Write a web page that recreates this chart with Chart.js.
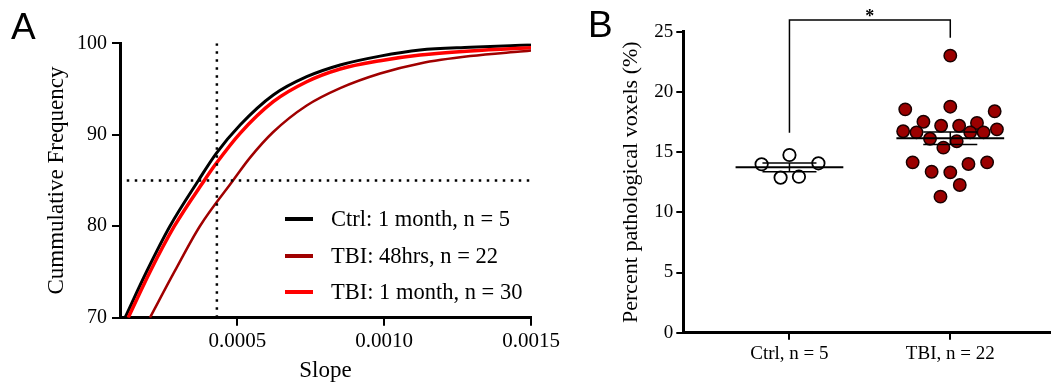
<!DOCTYPE html>
<html>
<head>
<meta charset="utf-8">
<script src="https://cdn.jsdelivr.net/npm/chart.js@4.4.0/dist/chart.umd.min.js"></script>
<style>
  body { margin: 0; background: #fff; width: 1058px; height: 388px; overflow: hidden; position: relative; font-family: "Liberation Serif", "Times New Roman", serif; color: #000; }
  .panel { position: absolute; top: 0; height: 388px; }
  .letra { position: absolute; font-family: "Liberation Sans", Arial, sans-serif; font-size: 37px; line-height: 1; }
  .fila { position: absolute; left: 285px; height: 36px; display: flex; align-items: center; font-size: 22.5px; line-height: 1; white-space: nowrap; }
  .muestra { width: 28px; height: 4px; margin-right: 18px; }
</style>
</head>
<body>
<canvas id="grafico-frecuencia" class="panel" style="left:0" width="570" height="388"></canvas>
<canvas id="grafico-voxeles" class="panel" style="left:540px" width="518" height="388"></canvas>

<div class="letra" style="left:11px; top:8px">A</div>
<div class="letra" style="left:588px; top:6px">B</div>

<div class="fila" style="top:201px"><span class="muestra" style="background:#000"></span>Ctrl: 1 month, n = 5</div>
<div class="fila" style="top:238px"><span class="muestra" style="background:#A00000"></span>TBI: 48hrs, n = 22</div>
<div class="fila" style="top:274px"><span class="muestra" style="background:#FF0000"></span>TBI: 1 month, n = 30</div>

<script>
// --- Panel A: frecuencia acumulada de la pendiente ---
const pendienteCtrl = [0.000117, 0.00019, 0.00027, 0.000367, 0.000428, 0.000509, 0.000622, 0.000736, 0.00085, 0.000986, 0.001122, 0.001293, 0.001463, 0.0015];
const frecuenciaCtrl = [70, 75, 80, 85, 87.97, 91.07, 94.35, 96.35, 97.63, 98.6, 99.27, 99.57, 99.78, 99.82];

const pendienteTbi48 = [0.000202, 0.000285, 0.000372, 0.000485, 0.000543, 0.000622, 0.000736, 0.00085, 0.000986, 0.001122, 0.001293, 0.001463, 0.0015];
const frecuenciaTbi48 = [70, 75, 80, 85, 87.5, 90.3, 93.2, 95.1, 96.7, 97.8, 98.6, 99.1, 99.2];

const pendienteTbiMes = [0.000128, 0.000202, 0.000285, 0.000387, 0.000428, 0.000509, 0.000622, 0.000736, 0.00085, 0.000986, 0.001122, 0.001293, 0.001463, 0.0015];
const frecuenciaTbiMes = [70, 75, 80, 85, 86.88, 90.16, 93.62, 95.8, 97.19, 98.1, 98.72, 99.16, 99.45, 99.5];

const ticksPendiente = [0.0005, 0.0010, 0.0015];
const CORTE_PENDIENTE = 0.00043;   // línea punteada vertical
const CORTE_FRECUENCIA = 85;       // línea punteada horizontal
const INICIO_CORTE_H = 0.000123;

// --- Panel B: porcentaje de vóxeles patológicos ---
const categorias = ['Ctrl, n = 5', 'TBI, n = 22'];
const voxelesCtrl = [13.99, 14.76, 14.07, 12.88, 12.96];
const desplazCtrl = [-0.173, 0, 0.18, -0.055, 0.059];
const voxelesTbi = [23.01, 18.55, 18.77, 18.39, 17.52, 17.19, 17.19, 17.42, 16.73, 16.64, 16.64, 16.64, 16.89, 16.11, 15.90, 15.37, 14.15, 14.01, 14.15, 13.37, 13.32, 12.27, 11.30];
const desplazTbi = [0, -0.280, 0, 0.276, -0.167, -0.057, 0.055, 0.166, -0.293, -0.210, 0.124, 0.207, 0.290, -0.126, 0.040, -0.043, -0.234, 0.113, 0.229, -0.116, 0, 0.059, -0.061];
const corchete = [16.6, 25.97, 24.5];  // izquierda, arriba, derecha
const ASTERISCO_Y = 25.8;

Chart.defaults.font.family = '"Liberation Serif", "Times New Roman", serif';
Chart.defaults.color = '#000';

const aPuntos = (xs, ys) => xs.map((x, i) => ({ x: x, y: ys[i] }));

function curva(xs, ys, color, ancho) {
    return {
        data: aPuntos(xs, ys),
        borderColor: color,
        borderWidth: ancho,
        pointRadius: 0,
        cubicInterpolationMode: 'monotone',
        fill: false
    };
}

function punteada(datos) {
    return {
        data: datos,
        borderColor: '#000',
        borderWidth: 2.5,
        borderDash: [2.5, 5.5],
        pointRadius: 0,
        fill: false
    };
}

const ejeNegro = { display: true, color: '#000', width: 3 };
const marcas = (largo) => ({ display: true, drawOnChartArea: false, drawTicks: true, tickLength: largo, color: '#000', lineWidth: 2 });

new Chart(document.getElementById('grafico-frecuencia').getContext('2d'), {
    type: 'line',
    data: {
        datasets: [
            punteada([{ x: CORTE_PENDIENTE, y: 70 }, { x: CORTE_PENDIENTE, y: 100 }]),
            punteada([{ x: INICIO_CORTE_H, y: CORTE_FRECUENCIA }, { x: 0.0015, y: CORTE_FRECUENCIA }]),
            curva(pendienteTbi48, frecuenciaTbi48, '#A00000', 2.5),
            curva(pendienteTbiMes, frecuenciaTbiMes, '#FF0000', 3.5),
            curva(pendienteCtrl, frecuenciaCtrl, '#000000', 3)
        ]
    },
    options: {
        responsive: false,
        animation: false,
        layout: { padding: { left: 0, top: 43.3, right: 39, bottom: 0 } },
        plugins: { legend: { display: false }, tooltip: { enabled: false } },
        scales: {
            x: {
                type: 'linear', min: 0.0001, max: 0.0015,
                afterBuildTicks: eje => { eje.ticks = ticksPendiente.map(v => ({ value: v })); },
                afterFit: eje => { eje.height = 70.3; eje.paddingRight = 0; eje.paddingLeft = 0; },
                ticks: { callback: v => v.toFixed(4), font: { size: 21 }, padding: 3, maxRotation: 0, autoSkip: false },
                grid: marcas(8),
                border: ejeNegro,
                title: { display: true, text: 'Slope', font: { size: 23 }, padding: { top: 0, bottom: 3 } }
            },
            y: {
                min: 70, max: 100,
                afterFit: eje => { eje.width = 120; },
                ticks: { stepSize: 10, font: { size: 20 }, padding: 5 },
                grid: marcas(8),
                border: ejeNegro,
                title: { display: true, text: 'Cummulative Frequency', font: { size: 23 }, padding: { top: 43, bottom: 0 } }
            }
        }
    }
});

// Media y error estándar de cada grupo
function media(v) { return v.reduce((a, b) => a + b, 0) / v.length; }
function errorEstandar(v) {
    const m = media(v);
    const sd = Math.sqrt(v.reduce((a, b) => a + (b - m) ** 2, 0) / (v.length - 1));
    return sd / Math.sqrt(v.length);
}

function trazo(datos, ancho) {
    return {
        type: 'scatter', showLine: true, data: datos,
        borderColor: '#000', borderWidth: ancho,
        pointRadius: 0, order: 0, clip: false
    };
}

function barrasError(valores, pos) {
    const m = media(valores);
    const e = errorEstandar(valores);
    return [
        trazo([{ x: pos - 0.335, y: m }, { x: pos + 0.335, y: m }], 2),
        trazo([{ x: pos - 0.168, y: m + e }, { x: pos + 0.168, y: m + e }], 1.5),
        trazo([{ x: pos - 0.168, y: m - e }, { x: pos + 0.168, y: m - e }], 1.5),
        trazo([{ x: pos, y: m - e }, { x: pos, y: m + e }], 1.5)
    ];
}

const pluginAsterisco = {
    id: 'asterisco',
    afterDatasetsDraw(chart) {
        const { ctx, scales } = chart;
        ctx.save();
        ctx.font = 'bold 18px "Liberation Serif"';
        ctx.fillStyle = '#000';
        ctx.textAlign = 'center';
        ctx.textBaseline = 'alphabetic';
        ctx.fillText('*', scales.x.getPixelForValue(0.5), scales.y.getPixelForValue(ASTERISCO_Y));
        ctx.restore();
    }
};

new Chart(document.getElementById('grafico-voxeles').getContext('2d'), {
    type: 'scatter',
    data: {
        datasets: [
            {
                data: voxelesCtrl.map((v, i) => ({ x: 0 + desplazCtrl[i], y: v })),
                backgroundColor: '#FFFFFF', borderColor: '#000', borderWidth: 1.8,
                pointRadius: 6.2, order: 1
            },
            {
                data: voxelesTbi.map((v, i) => ({ x: 1 + desplazTbi[i], y: v })),
                backgroundColor: '#9B0000', borderColor: '#1a0000', borderWidth: 1.5,
                pointRadius: 6.2, order: 1
            },
            ...barrasError(voxelesCtrl, 0),
            ...barrasError(voxelesTbi, 1),
            trazo([{ x: 0, y: corchete[0] }, { x: 0, y: corchete[1] }, { x: 1, y: corchete[1] }, { x: 1, y: corchete[2] }], 1.5)
        ]
    },
    options: {
        responsive: false,
        animation: false,
        layout: { padding: { left: 0, top: 31.7, right: 0, bottom: 0 } },
        plugins: { legend: { display: false }, tooltip: { enabled: false } },
        scales: {
            x: {
                type: 'linear', min: -0.66, max: 1.62,
                afterBuildTicks: eje => { eje.ticks = categorias.map((c, i) => ({ value: i })); },
                afterFit: eje => { eje.height = 55.3; },
                ticks: { callback: v => categorias[v], font: { size: 19 }, padding: 3, maxRotation: 0, autoSkip: false },
                grid: marcas(7),
                border: ejeNegro
            },
            y: {
                min: 0, max: 25,
                afterFit: eje => { eje.width = 143.3; },
                ticks: { stepSize: 5, font: { size: 19 }, padding: 3 },
                grid: marcas(7),
                border: ejeNegro,
                title: { display: true, text: 'Percent pathological voxels (%)', font: { size: 22 }, padding: { top: 78.5, bottom: 0 } }
            }
        }
    },
    plugins: [pluginAsterisco]
});
</script>
</body>
</html>
